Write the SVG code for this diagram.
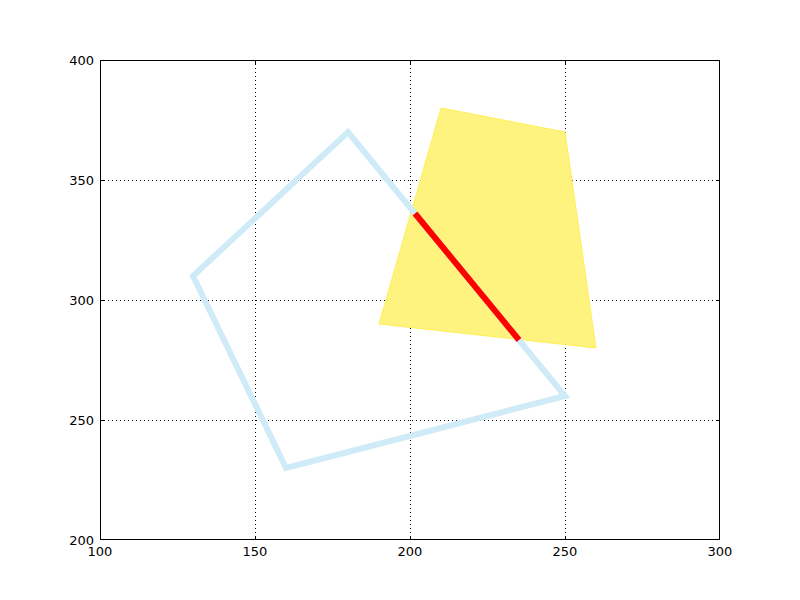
<svg xmlns="http://www.w3.org/2000/svg" width="800" height="600" viewBox="0 0 800 600">
<style>
.grid{stroke:#000;stroke-width:1;stroke-dasharray:1,3;fill:none}
.tick{stroke:#000;stroke-width:1;fill:none}
.lbl{font-family:"DejaVu Sans",sans-serif;font-size:13px;fill:#000}
</style>
<rect width="800" height="600" fill="#fff"/>
<g id="grid">
<path class="grid" d="M255.5,60V540M410.5,60V540M565.5,60V540M100,180.5H720M100,300.5H720M100,420.5H720"/>
</g>
<g id="yellow-polygon">
<polygon points="441,108 565,132 596,348 379,324" fill="#fff37f" stroke="#ffee55" stroke-width="1"/>
</g>
<g id="blue-polygon">
<polygon points="193,276 348,132 565,396 286,468" fill="none" stroke="#cfebf7" stroke-width="6" stroke-linejoin="miter"/>
</g>
<g id="connectors">
<line x1="415" y1="213.5" x2="519" y2="340" stroke="#ff0000" stroke-width="6"/>
</g>
<g id="axes">
<rect x="100.5" y="60.5" width="619" height="479" fill="none" stroke="#000" stroke-width="1"/>
<path class="tick" d="M255.5,540V536M410.5,540V536M565.5,540V536M255.5,60V64M410.5,60V64M565.5,60V64M100,180.5H104M100,300.5H104M100,420.5H104M720,180.5H716M720,300.5H716M720,420.5H716"/>
<text class="lbl" x="100" y="556" text-anchor="middle">100</text>
<text class="lbl" x="255" y="556" text-anchor="middle">150</text>
<text class="lbl" x="410" y="556" text-anchor="middle">200</text>
<text class="lbl" x="565" y="556" text-anchor="middle">250</text>
<text class="lbl" x="720" y="556" text-anchor="middle">300</text>
<text class="lbl" x="94" y="65" text-anchor="end">400</text>
<text class="lbl" x="94" y="185" text-anchor="end">350</text>
<text class="lbl" x="94" y="305" text-anchor="end">300</text>
<text class="lbl" x="94" y="425" text-anchor="end">250</text>
<text class="lbl" x="94" y="545" text-anchor="end">200</text>
</g>
</svg>
